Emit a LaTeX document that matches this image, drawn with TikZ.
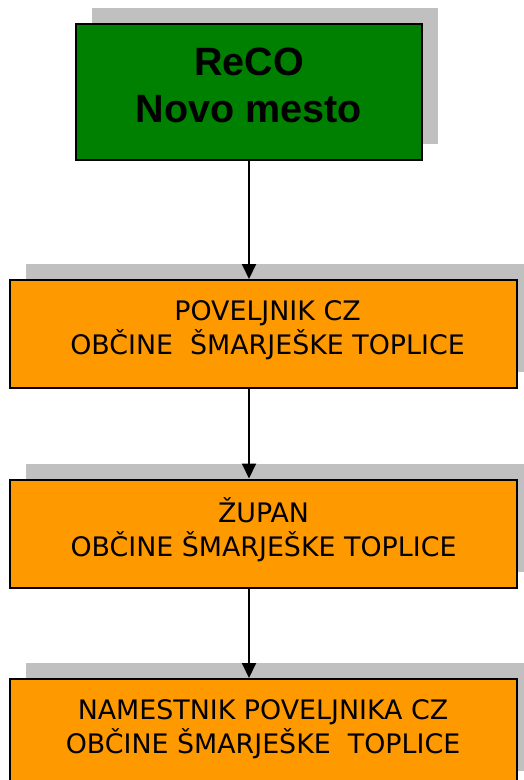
\documentclass[tikz,border=0pt]{standalone}
\usepackage{fontspec}
\setmainfont{DejaVu Sans}
\newfontfamily\titlefont{Liberation Sans}
\usetikzlibrary{arrows.meta,shadows}
\definecolor{boxgreen}{HTML}{008000}
\definecolor{boxorange}{HTML}{FF9900}
\definecolor{shadowgray}{HTML}{C0C0C0}
\begin{document}
\begin{tikzpicture}[x=1pt,y=-1pt,
  box/.style={draw=black, line width=2pt, rectangle, inner sep=0pt, align=center,
    drop shadow={shadow xshift=16pt, shadow yshift=16pt, fill=shadowgray, opacity=1}},
  orangebox/.style={box, fill=boxorange, minimum width=507pt, minimum height=108pt,
    font=\fontsize{26.85pt}{34pt}\selectfont, text depth=0pt},
  greenbox/.style={box, fill=boxgreen, minimum width=346pt, minimum height=136pt,
    font=\titlefont\bfseries\fontsize{39.5pt}{47pt}\selectfont, text depth=0pt},
  arr/.style={line width=2pt, -{Triangle[length=15pt,width=14pt]}}]
\useasboundingbox (0,0) rectangle (523,780);
\node[greenbox, text height=60pt] (top) at (249,92) {ReCO\\Novo mesto};
\node[orangebox, text height=40.6pt] (b2) at (263.5,334)
  {\hspace*{8pt}POVELJNIK CZ\\\hspace*{8pt}OBČINE\ \ ŠMARJEŠKE TOPLICE};
\node[orangebox, text height=46pt] (b3) at (263.5,533.5)
  {ŽUPAN\\OBČINE ŠMARJEŠKE TOPLICE};
\node[orangebox, text height=40.6pt] (b4) at (263,733)
  {NAMESTNIK POVELJNIKA CZ\\OBČINE ŠMARJEŠKE\ \ TOPLICE};
\draw[arr] (top.south) -- (top.south |- b2.north);
\draw[arr] (b2.south -| top.south) -- (b3.north -| top.south);
\draw[arr] (b3.south -| top.south) -- (b4.north -| top.south);
\end{tikzpicture}
\end{document}
